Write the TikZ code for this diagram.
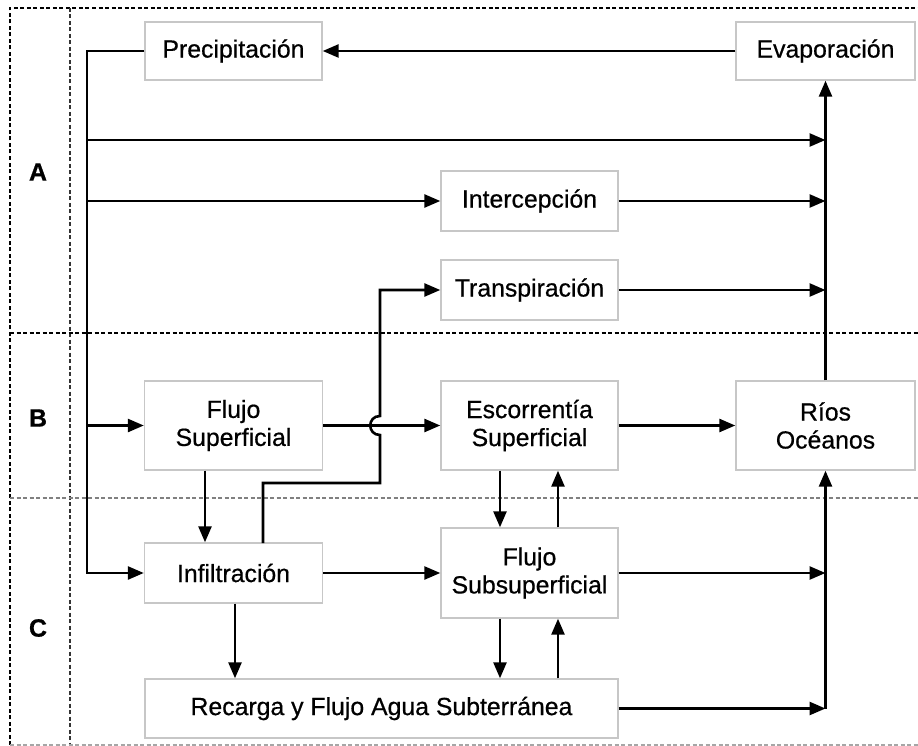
\documentclass[tikz,border=0pt]{standalone}
\usepackage{fontspec}
\setmainfont{Liberation Sans}[FakeBold=0.7]
\usetikzlibrary{arrows.meta}
\begin{document}
\begin{tikzpicture}[x=1pt,y=-1pt,
  box/.style={draw=black!22,line width=1.4pt,fill=white,inner sep=0pt,align=center,
    font=\fontsize{24.8}{28}\selectfont\addfontfeature{FakeBold=0.6}},
  arr/.style={line width=2.6pt,-{Triangle[length=16pt,width=13pt]}},
  sepd/.style={dash pattern=on 4pt off 2.5pt,line width=1.5pt},
  lab/.style={font=\fontsize{25}{30}\selectfont\bfseries}]
\useasboundingbox (0,0) rectangle (918,746);
\fill[white] (0,0) rectangle (918,746);

% separators
\draw[sepd,black] (10,745) -- (10,8) -- (918,8);
\draw[sepd,black!80] (70,8) -- (70,745);
\draw[sepd,black] (10,333) -- (918,333);
\draw[sepd,black!50] (10,498) -- (918,498);
\draw[sepd,black!35] (10,745) -- (918,745);

% labels
\node[lab] (la) at (38,172) {A};
\node[lab] (lb) at (38,418) {B};
\node[lab] (lc) at (38,628) {C};

% boxes
\node[box,minimum width=177pt,minimum height=58pt] (prec) at (233.5,51) {Precipitación};
\node[box,minimum width=179pt,minimum height=58pt] (evap) at (825.5,51) {Evaporación};
\node[box,minimum width=177pt,minimum height=60pt] (inter) at (529.5,201) {Intercepción};
\node[box,minimum width=177pt,minimum height=60pt] (trans) at (529.5,290) {Transpiración};
\node[box,minimum width=178pt,minimum height=89pt] (fsup) at (233.5,425.5) {Flujo\\Superficial};
\node[box,minimum width=177pt,minimum height=89pt] (esc) at (529.5,425.5) {Escorrentía\\Superficial};
\node[box,minimum width=179pt,minimum height=89pt] (rios) at (825.5,425.5) {Ríos\\Océanos};
\node[box,minimum width=178pt,minimum height=60pt] (infil) at (233.5,573) {Infiltración};
\node[box,minimum width=177pt,minimum height=90pt] (fsub) at (529.5,573) {Flujo\\Subsuperficial};
\node[box,minimum width=473pt,minimum height=59pt] (rec) at (381.5,708.5) {Recarga y Flujo Agua Subterránea};

% coordinates
\coordinate (sp) at (87,573);
\coordinate (s140) at (87,140);
\coordinate (e140) at (825.5,140);
\coordinate (s201) at (87,201);
\coordinate (e201) at (825.5,201);
\coordinate (e290) at (825.5,290);
\coordinate (s425) at (87,425.5);
\coordinate (e573) at (825.5,573);
\coordinate (rc) at (825.5,708.5);
\coordinate (j0) at (263,543);
\coordinate (j1) at (380,483);
\coordinate (j2) at (380,435);
\coordinate (j3) at (380,416);
\coordinate (j4) at (380,290);

% connectors
\draw[arr] (evap.west) -- (prec.east);
\draw[arr] (prec.west) -| (sp) -- (infil.west);
\draw[arr] (s140) -- (e140);
\draw[arr] (s201) -- (inter.west);
\draw[arr] (inter.east) -- (e201);
\draw[arr] (trans.east) -- (e290);
\draw[arr] (s425) -- (fsup.west);
\draw[arr] (rios.north) -- (evap.south);
\draw[arr] (fsup.east) -- (esc.west);
\draw[arr] (esc.east) -- (rios.west);
\draw[arr] (fsup.south -| 205,0) -- (infil.north -| 205,0);
\draw[arr] (j0) |- (j1) -- (j2) .. controls (367,435) and (367,416) .. (j3) -- (j4) -- (trans.west);
\draw[arr] (infil.east) -- (fsub.west);
\draw[arr] (fsub.east) -- (e573);
\draw[arr] (esc.south -| 500,0) -- (fsub.north -| 500,0);
\draw[arr] (fsub.north -| 558,0) -- (esc.south -| 558,0);
\draw[arr] (infil.south -| 235,0) -- (rec.north -| 235,0);
\draw[arr] (fsub.south -| 500,0) -- (rec.north -| 500,0);
\draw[arr] (rec.north -| 558,0) -- (fsub.south -| 558,0);
\draw[arr] (rec.east) -- (rc);
\draw[arr] (rc) -- (rios.south);
\end{tikzpicture}
\end{document}
